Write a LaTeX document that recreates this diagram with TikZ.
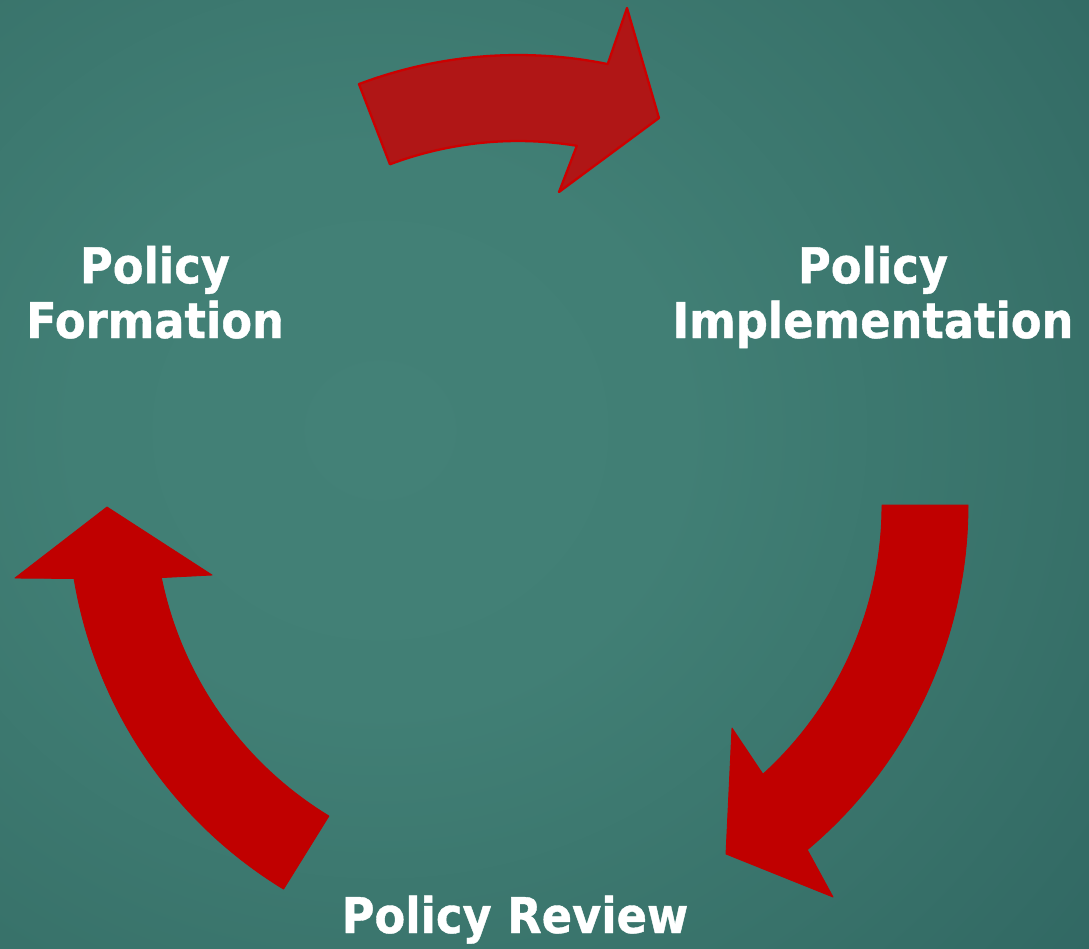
\documentclass[tikz,border=0pt]{standalone}
\usepackage{fontspec}
\newfontfamily\cyclefont[FakeStretch=0.91,FakeBold=0.8]{DejaVu Sans Bold}
\usetikzlibrary{positioning}

\definecolor{bginner}{RGB}{67,129,119}
\definecolor{bgmid}{RGB}{65,127,117}
\definecolor{bgring}{RGB}{56,114,106}
\definecolor{bgedge}{RGB}{49,104,99}
\definecolor{bgdark}{RGB}{41,92,92}
\definecolor{bgouter}{RGB}{38,86,88}
\definecolor{arrowred}{RGB}{192,0,0}
\definecolor{topfill}{RGB}{176,22,22}
\definecolor{topline}{RGB}{204,0,0}

\pgfdeclareradialshading{backdrop}{\pgfpoint{0bp}{0bp}}{%
  color(0bp)=(bginner); color(10bp)=(bgmid); color(22bp)=(bgring);
  color(30bp)=(bgedge); color(40bp)=(bgdark); color(50bp)=(bgouter)}

\begin{document}
\begin{tikzpicture}[x=0.02cm,y=-0.02cm,
    stage/.style={text=white,align=center,inner sep=0pt,
      font=\cyclefont\fontsize{28}{31.2}\selectfont},
    bigarrow/.style={fill=arrowred,draw=arrowred,line width=0.5pt,line join=round},
    toparrow/.style={fill=topfill,draw=topline,line width=1.3pt,line join=round}]
    \useasboundingbox (0,0) rectangle (1089,948);
    \begin{scope}
      \clip (0,0) rectangle (1089,948);
      \shade[shading=backdrop] (-380,-270) rectangle (1140,1130);
    \end{scope}

    % arrows of the cycle, all on one ring
    \coordinate (hub) at (518,505);
    \draw[toparrow] ([shift={(hub)}]-110.7:450) arc[start angle=-110.7,end angle=-78.5,radius=450]
      -- (627,8) -- (659,118) -- (559,192)
      -- ([shift={(hub)}]-80.7:364) arc[start angle=-80.7,end angle=-110.6,radius=364] -- cycle;
    \draw[bigarrow] ([shift={(hub)}]0:364) -- ([shift={(hub)}]0:450) arc[start angle=0,end angle=50,radius=450]
      -- (833,897) -- (726,854) -- (732,728)
      -- ([shift={(hub)}]47.7:364) arc[start angle=47.7,end angle=0,radius=364] -- cycle;
    \draw[bigarrow] ([shift={(hub)}]121.4:450) arc[start angle=121.4,end angle=170.6,radius=450]
      -- (15,578) -- (107,507) -- (212,575)
      -- ([shift={(hub)}]168.5:364) arc[start angle=168.5,end angle=121.3,radius=364] -- cycle;

    % stages
    \node[stage,anchor=base] (formation) at (155,338) {Policy\\Formation};
    \node[stage,anchor=base] (implementation) at (873,338) {Policy\\Implementation};
    \node[stage,anchor=base] (review) at (515,933) {Policy Review};
\end{tikzpicture}
\end{document}
